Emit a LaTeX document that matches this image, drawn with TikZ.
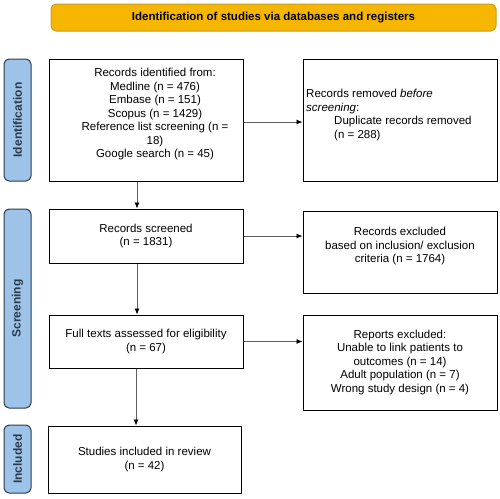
\documentclass[tikz,border=0pt]{standalone}
\usepackage{fontspec}
\setmainfont{Liberation Sans}
\usetikzlibrary{arrows.meta,backgrounds}
\tikzset{>=latex}
\definecolor{bannerfill}{RGB}{246,182,0}
\definecolor{bannerline}{RGB}{196,156,40}
\definecolor{phasefill}{RGB}{157,196,232}
\definecolor{phaseline}{RGB}{44,58,76}
\definecolor{linkgrey}{RGB}{95,95,95}
\tikzset{
  box/.style={draw=black, line width=1pt, inner sep=0pt, fill=white,
    font=\fontsize{11.5}{13.5}\selectfont, align=center},
  boxtext/.style={inner sep=0pt, font=\fontsize{11.5}{13.5}\selectfont},
  phase/.style={draw=phaseline, line width=1pt, fill=phasefill, rounded corners=5pt,
    inner sep=0pt, minimum width=27pt, text=phaseline, font=\bfseries\fontsize{12}{14}\selectfont},
  link/.style={draw=linkgrey, line width=0.8pt, -{Latex[black,length=6pt,width=5pt]}},
}

\begin{document}
\begin{tikzpicture}[x=1pt, y=-1pt]
    \useasboundingbox (0,0) rectangle (500,498);

    \node[draw=bannerline, line width=1pt, fill=bannerfill, rounded corners=5pt, inner sep=0pt,
      minimum width=445pt, minimum height=27pt, font=\bfseries\fontsize{11.5}{13}\selectfont]
      (banner) at (273.5,17.5) {Identification of studies via databases and registers};

    \node[phase, minimum height=122pt] (pident) at (17.5,120) {\rotatebox{90}{Identification}};
    \node[phase, minimum height=199pt] (pscreen) at (17.5,308.5) {\rotatebox{90}{Screening}};
    \node[phase, minimum height=68pt] (pincl) at (17.5,459) {\rotatebox{90}{Included}};

    \node[box, minimum width=194pt, minimum height=122pt] (ident) at (146,120) {};
    \node[boxtext, align=center] (identtxt) at (155,114.5) {Records identified from:\\
      Medline (n = 476)\\ Embase (n = 151)\\ Scopus (n = 1429)\\
      Reference list screening (n =\\ 18)\\ Google search (n = 45)};

    \node[box, minimum width=194pt, minimum height=122pt] (removed) at (400,120) {};
    \node[boxtext, align=left, anchor=west] (removedtxt) at (306,115) {Records removed \textit{before}\\
      \textit{screening}:\\ \hspace*{28pt}Duplicate records removed\\ \hspace*{28pt}(n = 288)};

    \node[box, minimum width=194pt, minimum height=54pt] (screened) at (146,236) {Records screened\\ (n = 1831)};

    \node[box, minimum width=194pt, minimum height=82pt] (excluded) at (400,252) {};
    \node[boxtext, align=center] (excludedtxt) at (400,246.5) {Records excluded\\
      based on inclusion/ exclusion\\ criteria (n = 1764)};

    \node[box, minimum width=194pt, minimum height=53pt] (fulltext) at (146,341.5) {Full texts assessed for eligibility\\ (n = 67)};

    \node[box, minimum width=194pt, minimum height=95pt] (reports) at (400,362.5) {Reports excluded:\\
      Unable to link patients to\\ outcomes (n = 14)\\ Adult population (n = 7)\\ Wrong study design (n = 4)};

    \node[box, minimum width=193pt, minimum height=67pt] (included) at (144.5,459.5) {Studies included in review\\ (n = 42)};

    \draw[link] ([yshift=-2pt]ident.east) -- ([yshift=-2pt]removed.west);
    \draw[link] (screened.east) -- (screened.east -| excluded.west);
    \draw[link] (fulltext.east) -- (fulltext.east -| reports.west);
    \draw[link] ([xshift=-9pt]ident.south) -- ([xshift=-9pt]screened.north);
    \draw[link] ([xshift=-9pt]screened.south) -- ([xshift=-9pt]fulltext.north);
    \draw[link] ([xshift=-10pt]fulltext.south) -- ([xshift=-10pt]fulltext.south |- included.north);

\end{tikzpicture}
\end{document}
